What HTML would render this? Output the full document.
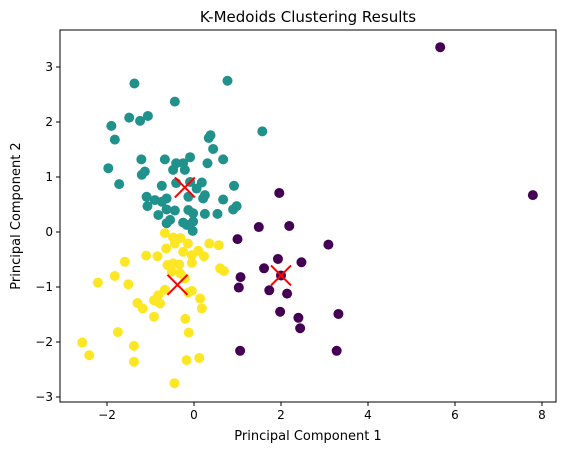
<!DOCTYPE html>
<html><head><meta charset="utf-8"><style>
body{margin:0;background:#fff;}
svg text{font-family:"DejaVu Sans","Liberation Sans",sans-serif;fill:#000;}
</style></head><body>
<svg id="chart" width="565" height="453" xmlns="http://www.w3.org/2000/svg">
<text x="308" y="22" font-size="15" text-anchor="middle">K-Medoids Clustering Results</text>
<text x="308" y="440" font-size="13" text-anchor="middle">Principal Component 1</text>
<text x="20" y="216" font-size="13" text-anchor="middle" transform="rotate(-90 20 216)">Principal Component 2</text>
<g id="marks"></g>
<g id="axes"></g>
</svg>
<script>
const xTicks=[-2,0,2,4,6,8];
const yTicks=[-3,-2,-1,0,1,2,3];
const tealX=[-1.37,0.77,-0.44,-1.49,-1.24,-1.06,-1.90,-1.82,0.38,0.34,1.57,0.44,-1.21,-0.67,-0.09,0.67,0.31,-1.97,-0.41,-0.25,-0.48,-0.21,-1.13,-1.20,-1.72,-0.74,-0.41,-0.09,0.18,0.06,0.92,-1.09,-0.90,-0.63,-0.13,0.25,0.21,-1.07,-0.74,-0.63,-0.44,-0.13,-0.02,0.25,0.67,0.98,0.90,0.54,-0.82,-0.55,-0.63,-0.17,-0.02,-0.03,-0.25];
const tealY=[2.70,2.75,2.37,2.08,2.02,2.11,1.93,1.68,1.76,1.71,1.83,1.51,1.32,1.32,1.36,1.32,1.25,1.16,1.25,1.25,1.13,1.13,1.10,1.04,0.87,0.84,0.89,0.91,0.90,0.79,0.84,0.64,0.58,0.61,0.64,0.67,0.61,0.47,0.55,0.41,0.39,0.40,0.34,0.33,0.59,0.47,0.41,0.33,0.31,0.22,0.16,0.13,0.19,0.02,0.17];
const yellowX=[-0.67,-0.48,-0.31,-0.44,-0.14,-0.64,-0.25,0.35,0.57,-1.10,-0.84,-0.05,0.10,0.23,-1.59,-0.61,-0.48,-0.34,-0.05,0.60,0.69,-0.51,-0.32,-0.21,-1.82,-2.21,-1.51,-0.67,-0.82,-0.92,-0.78,-0.05,-0.13,0.14,-1.30,-1.18,0.18,-0.92,-0.20,-1.75,-0.12,-2.57,-2.41,-1.38,-1.38,-0.17,0.12,-0.45];
const yellowY=[-0.02,-0.10,-0.11,-0.21,-0.21,-0.30,-0.36,-0.21,-0.24,-0.43,-0.44,-0.42,-0.34,-0.44,-0.54,-0.60,-0.57,-0.59,-0.56,-0.66,-0.71,-0.72,-0.75,-0.84,-0.80,-0.92,-0.95,-1.05,-1.15,-1.24,-1.30,-1.07,-1.10,-1.21,-1.29,-1.39,-1.39,-1.54,-1.58,-1.82,-1.83,-2.01,-2.24,-2.07,-2.36,-2.33,-2.29,-2.75];
const purpleX=[1.96,1.49,2.19,1.00,3.09,1.93,2.47,1.61,2.00,1.07,1.03,1.73,2.14,1.98,2.40,2.44,3.32,1.06,3.28,5.66,7.79];
const purpleY=[0.71,0.09,0.11,-0.13,-0.23,-0.49,-0.55,-0.66,-0.79,-0.82,-1.01,-1.06,-1.12,-1.45,-1.56,-1.75,-1.49,-2.16,-2.16,3.36,0.67];
const medoidX=[2.00,-0.21,-0.38];
const medoidY=[-0.79,0.81,-0.96];

const NS="http://www.w3.org/2000/svg";
const L=60,R=556,T=30,B=402;
const sx=v=>194+v*43.5;
const sy=v=>232-v*55;
const marks=document.getElementById('marks');
const axes=document.getElementById('axes');
function mk(tag,attrs,parent){const e=document.createElementNS(NS,tag);for(const k in attrs)e.setAttribute(k,attrs[k]);parent.appendChild(e);return e;}
function drawSeries(xs,ys,color,name){
  for(let i=0;i<xs.length;i++){
    const c=mk('circle',{cx:sx(xs[i]),cy:sy(ys[i]),r:5,fill:color},marks);
    
    
  }
}
drawSeries(purpleX,purpleY,'#440154','cluster-0');
drawSeries(tealX,tealY,'#21918c','cluster-1');
drawSeries(yellowX,yellowY,'#fde725','cluster-2');
for(let i=0;i<medoidX.length;i++){
  const cx=sx(medoidX[i]),cy=sy(medoidY[i]),d=10;
  const g=mk('g',{},marks);
  
  
  mk('line',{x1:cx-d,y1:cy-d,x2:cx+d,y2:cy+d,stroke:'#ff0000','stroke-width':2},g);
  mk('line',{x1:cx-d,y1:cy+d,x2:cx+d,y2:cy-d,stroke:'#ff0000','stroke-width':2},g);
}
const frame=mk('rect',{x:L,y:T,width:R-L,height:B-T,fill:'none',stroke:'#000','stroke-width':1},axes);


xTicks.forEach(v=>{
  const x=sx(v);
  mk('line',{x1:x,y1:B,x2:x,y2:B+4,stroke:'#000'},axes);
  const t=mk('text',{x:x,y:B+17,'font-size':12,'text-anchor':'middle'},axes);
  t.textContent=(v<0?'\u2212'+(-v):v);
  
  
});
yTicks.forEach(v=>{
  const y=sy(v);
  mk('line',{x1:L-4,y1:y,x2:L,y2:y,stroke:'#000'},axes);
  const t=mk('text',{x:L-7,y:y+4,'font-size':12,'text-anchor':'end'},axes);
  t.textContent=(v<0?'\u2212'+(-v):v);
  
  
});
</script>
</body></html>
